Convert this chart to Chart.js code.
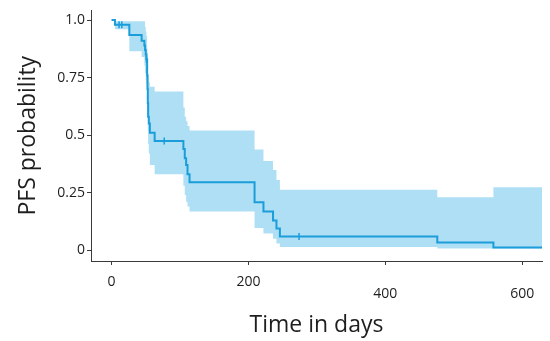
<!DOCTYPE html>
<html>
<head>
<meta charset="utf-8">
<script src="https://cdn.jsdelivr.net/npm/chart.js@4/dist/chart.umd.min.js"></script>
<style>
  html, body { margin: 0; padding: 0; background: #fff; }
  #wrap { width: 550px; height: 341px; }
</style>
</head>
<body>
<div id="wrap"><canvas id="km" width="550" height="341"></canvas></div>
<script>
// Kaplan-Meier curve (day, survival)
const kmDays = [0, 5, 26, 44, 48, 49, 50, 51, 52, 52.5, 53, 53.5, 54.5, 56, 63, 105, 107, 109, 111, 114, 209, 222, 236, 241, 246, 476, 558, 629];
const kmSurv = [1.0, 0.98, 0.935, 0.91, 0.89, 0.87, 0.85, 0.83, 0.76, 0.70, 0.64, 0.58, 0.55, 0.51, 0.474, 0.44, 0.40, 0.37, 0.33, 0.295, 0.208, 0.168, 0.129, 0.094, 0.06, 0.033, 0.012, 0.012];
// confidence band, same time points
const bandUpper = [1.0, 0.995, 0.995, 0.995, 0.995, 0.97, 0.95, 0.93, 0.88, 0.84, 0.80, 0.76, 0.73, 0.71, 0.69, 0.62, 0.58, 0.56, 0.54, 0.52, 0.438, 0.388, 0.348, 0.305, 0.263, 0.23, 0.273, 0.273];
const bandLower = [1.0, 0.96, 0.865, 0.84, 0.80, 0.77, 0.74, 0.72, 0.65, 0.58, 0.52, 0.46, 0.42, 0.37, 0.33, 0.28, 0.24, 0.21, 0.19, 0.168, 0.096, 0.072, 0.05, 0.029, 0.014, 0.007, 0.007, 0.007];
// censored observations
const censorDays = [11, 15, 51, 77, 274];
const censorSurv = [0.98, 0.98, 0.83, 0.474, 0.06];

const xTickValues = [0, 200, 400, 600];
const xTickLabels = [["0"], ["200"], ["", "400"], ["", "600"]];
const yTickValues = [0, 0.25, 0.5, 0.75, 1.0];
const yTickLabels = ["0", "0.25", "0.5", "0.75", "1.0"];

const lineColor = "#1a9dd9";
const bandColor = "#aedff4";
const textColor = "#1e1e1e";
const axisColor = "#3a3a3a";

const toPoints = (xs, ys) => xs.map((x, i) => ({ x, y: ys[i] }));

new Chart(document.getElementById("km"), {
    type: "line",
    data: {
        datasets: [
            {
                data: toPoints(kmDays, kmSurv),
                stepped: true,
                borderColor: lineColor,
                borderWidth: 2,
                pointRadius: 0,
                fill: false
            },
            {
                type: "scatter",
                data: toPoints(censorDays, censorSurv),
                pointStyle: "line",
                rotation: 90,
                radius: 3.5,
                borderColor: lineColor,
                borderWidth: 1.5
            },
            {
                data: toPoints(kmDays, bandUpper),
                stepped: true,
                borderWidth: 0,
                borderColor: "rgba(0,0,0,0)",
                backgroundColor: bandColor,
                pointRadius: 0,
                fill: "+1"
            },
            {
                data: toPoints(kmDays, bandLower),
                stepped: true,
                borderWidth: 0,
                borderColor: "rgba(0,0,0,0)",
                pointRadius: 0,
                fill: false
            }
        ]
    },
    options: {
        responsive: false,
        animation: false,
        layout: { padding: { left: 0, right: 8, top: 8, bottom: 0 } },
        plugins: { legend: { display: false }, tooltip: { enabled: false } },
        scales: {
            x: {
                type: "linear",
                min: -30,
                max: 629,
                afterBuildTicks: s => { s.ticks = xTickValues.map(v => ({ value: v })); },
                afterFit: s => { s.height = 80; },
                grid: { display: true, drawOnChartArea: false, tickLength: 4, tickColor: axisColor },
                border: { display: true, color: axisColor, width: 1 },
                ticks: {
                    color: textColor,
                    padding: 11.5,
                    maxRotation: 0,
                    autoSkip: false,
                    font: { family: "'Open Sans'", size: 14, lineHeight: 0.85 },
                    callback: (v, i) => xTickLabels[i]
                },
                title: {
                    display: true,
                    text: "Time in days",
                    color: textColor,
                    font: { family: "'Open Sans'", size: 23 },
                    padding: { top: 0, bottom: 2 }
                }
            },
            y: {
                type: "linear",
                min: -0.047,
                max: 1.042,
                afterBuildTicks: s => { s.ticks = yTickValues.map(v => ({ value: v })); },
                afterFit: s => { s.width = 91; },
                grid: { display: true, drawOnChartArea: false, tickLength: 4, tickColor: axisColor },
                border: { display: true, color: axisColor, width: 1 },
                ticks: {
                    color: textColor,
                    padding: 2,
                    font: { family: "'Open Sans'", size: 14 },
                    callback: (v, i) => yTickLabels[i]
                },
                title: {
                    display: true,
                    text: "PFS probability",
                    color: textColor,
                    font: { family: "'Open Sans'", size: 23 },
                    padding: { top: 14.7, bottom: 0 }
                }
            }
        }
    }
});
</script>
</body>
</html>
